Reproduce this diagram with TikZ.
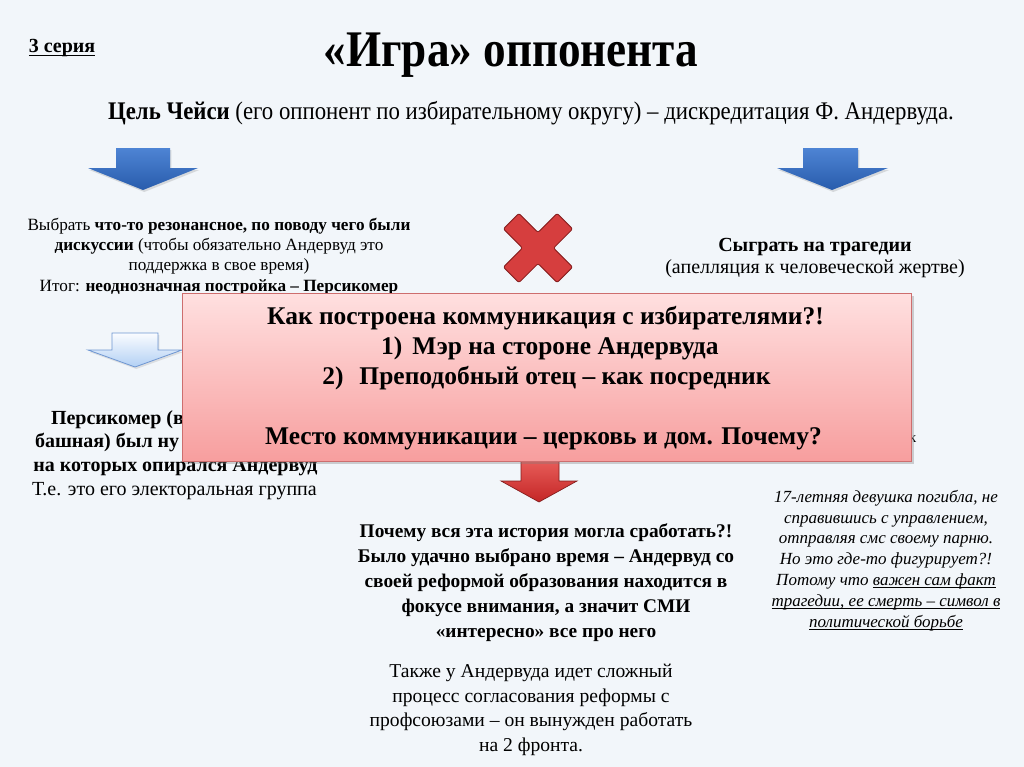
\documentclass[tikz,border=0pt]{standalone}
\usepackage{fontspec}
\setmainfont{Liberation Serif}
\usetikzlibrary{shadows}
\newcommand{\myul}[1]{\underline{\smash{#1}}}
\definecolor{bg}{RGB}{242,246,250}
\definecolor{blueTop}{RGB}{78,132,212}
\definecolor{blueBot}{RGB}{40,92,172}
\definecolor{lbTop}{RGB}{250,252,255}
\definecolor{lbBot}{RGB}{178,208,244}
\definecolor{lbEdge}{RGB}{110,150,210}
\definecolor{redTop}{RGB}{236,100,96}
\definecolor{redBot}{RGB}{196,38,38}
\definecolor{redEdge}{RGB}{130,28,28}
\definecolor{crossFill}{RGB}{214,62,62}
\definecolor{boxTop}{RGB}{255,224,224}
\definecolor{boxBot}{RGB}{247,158,158}
\definecolor{boxEdge}{RGB}{205,110,110}
\tikzset{
  txt/.style={inner sep=0pt, outer sep=0pt, text=black, align=center},
  bluearrow/.style={top color=blueTop, bottom color=blueBot, draw=none,
    drop shadow={shadow xshift=1pt, shadow yshift=-1.5pt, opacity=0.25}},
  hollowarrow/.style={top color=lbTop, bottom color=lbBot, draw=lbEdge, line width=0.6pt,
    drop shadow={shadow xshift=1pt, shadow yshift=-1.5pt, opacity=0.2}},
  redarrow/.style={top color=redTop, bottom color=redBot, draw=redEdge, line width=0.5pt},
  crossshape/.style={fill=crossFill, draw=redEdge, line width=0.6pt, rounded corners=1.5pt},
  bigbox/.style={top color=boxTop, bottom color=boxBot, draw=boxEdge, line width=0.6pt,
    drop shadow={shadow xshift=2pt, shadow yshift=-2.5pt, opacity=0.35}},
  boxtxt/.style={txt, anchor=base, font=\fontsize{19.1}{22}\selectfont\bfseries},
}
\begin{document}
\begin{tikzpicture}[x=0.75pt,y=0.75pt]
\useasboundingbox (0,0) rectangle (1024,-767);
\fill[bg] (0,0) rectangle (1024,-767);

% header
\node[txt, anchor=base, font=\fontsize{15}{17}\selectfont\bfseries] (series) at (62,-53) {\myul{3 серия}};
\node[txt, anchor=base, font=\fontsize{38.5}{42}\selectfont\bfseries] (title) at (511,-67) {\scalebox{0.88}[1]{«Игра» оппонента}};
\node[txt, font=\fontsize{19}{22}\selectfont] (goal) at (531,-113) {\scalebox{0.9}[1]{\textbf{Цель Чейси} (его оппонент по избирательному округу) – дискредитация Ф. Андервуда.}};

% blue arrows
\path[bluearrow] (116,-148) -- (170,-148) -- (170,-168) -- (198,-168) -- (143,-190) -- (88,-168) -- (116,-168) -- cycle;
\path[bluearrow] (803,-148) -- (858,-148) -- (858,-168) -- (888,-168) -- (832,-190) -- (777,-168) -- (803,-168) -- cycle;

% left text block
\node[txt, font=\fontsize{12.9}{15.2}\selectfont] (choose) at (219,-256.5) {Выбрать \textbf{что-то резонансное, по поводу чего были}\\
\textbf{дискуссии} (чтобы обязательно Андервуд это\\
поддержка в свое время)\\
Итог: \textbf{неоднозначная постройка – Персикомер}};

% red cross
\begin{scope}[shift={(538,-248)}, rotate=45]
\path[crossshape] (11,38) -- (11,11) -- (38,11) -- (38,-11) -- (11,-11) -- (11,-38) -- (-11,-38) -- (-11,-11) -- (-38,-11) -- (-38,11) -- (-11,11) -- (-11,38) -- cycle;
\end{scope}

% right text block
\node[txt, font=\fontsize{15}{16.5}\selectfont] (tragedy) at (815,-258) {\textbf{Сыграть на трагедии}\\(апелляция к человеческой жертве)};

% hollow arrow
\path[hollowarrow] (112,-333) -- (158,-333) -- (158,-350) -- (182,-350) -- (135,-367) -- (88,-350) -- (112,-350) -- cycle;

% left lower text (partly covered)
\node[txt, anchor=base west, font=\fontsize{15}{17}\selectfont\bfseries] (pers1) at (51,-424) {Персикомер (в};
\node[txt, anchor=base west, font=\fontsize{15}{17}\selectfont\bfseries] (pers2) at (35,-447) {башная) был ну};
\node[txt, anchor=base, font=\fontsize{15}{17}\selectfont\bfseries] (pers3) at (175.5,-471) {на которых опирался Андервуд};
\node[txt, anchor=base, font=\fontsize{15}{17}\selectfont] (pers4) at (174.5,-495) {Т.е. это его электоральная группа};

% right partial letter
\node[txt, anchor=base west, font=\fontsize{11}{13}\selectfont] (kfrag) at (909,-442) {к};

% red arrow
\path[redarrow] (521,-455) -- (559,-455) -- (559,-481) -- (577,-481) -- (539,-502) -- (501,-481) -- (521,-481) -- cycle;

% big box
\path[bigbox] (182,-293) rectangle (911,-461);
\node[boxtxt] (q1) at (545.5,-324) {Как построена коммуникация с избирателями?!};
\node[boxtxt] (q2) at (565.5,-354) {Мэр на стороне Андервуда};
\node[boxtxt, anchor=base east] (q2n) at ([xshift=-7.5pt]q2.base west) {1)};
\node[boxtxt] (q3) at (565,-384) {Преподобный отец – как посредник};
\node[boxtxt, anchor=base east] (q3n) at ([xshift=-12pt]q3.base west) {2)};
\node[boxtxt] (q4) at (543.5,-444) {Место коммуникации – церковь и дом. Почему?};

% bottom centre texts
\node[txt, font=\fontsize{14.5}{18.75}\selectfont\bfseries] (why) at (546,-583) {Почему вся эта история могла сработать?!\\
Было удачно выбрано время – Андервуд со\\
своей реформой образования находится в\\
фокусе внимания, а значит СМИ\\
«интересно» все про него};
\node[txt, font=\fontsize{14.7}{18.4}\selectfont] (also) at (531,-710) {Также у Андервуда идет сложный\\
процесс согласования реформы с\\
профсоюзами – он вынужден работать\\
на 2 фронта.};

% right italic text
\node[txt, font=\fontsize{12.75}{15.6}\selectfont\itshape] (girl) at (886,-560) {17-летняя девушка погибла, не\\
справившись с управлением,\\
отправляя смс своему парню.\\
Но это где-то фигурирует?!\\
Потому что \myul{важен сам факт}\\
\myul{трагедии, ее смерть – символ в}\\
\myul{политической борьбе}};
\end{tikzpicture}
\end{document}
